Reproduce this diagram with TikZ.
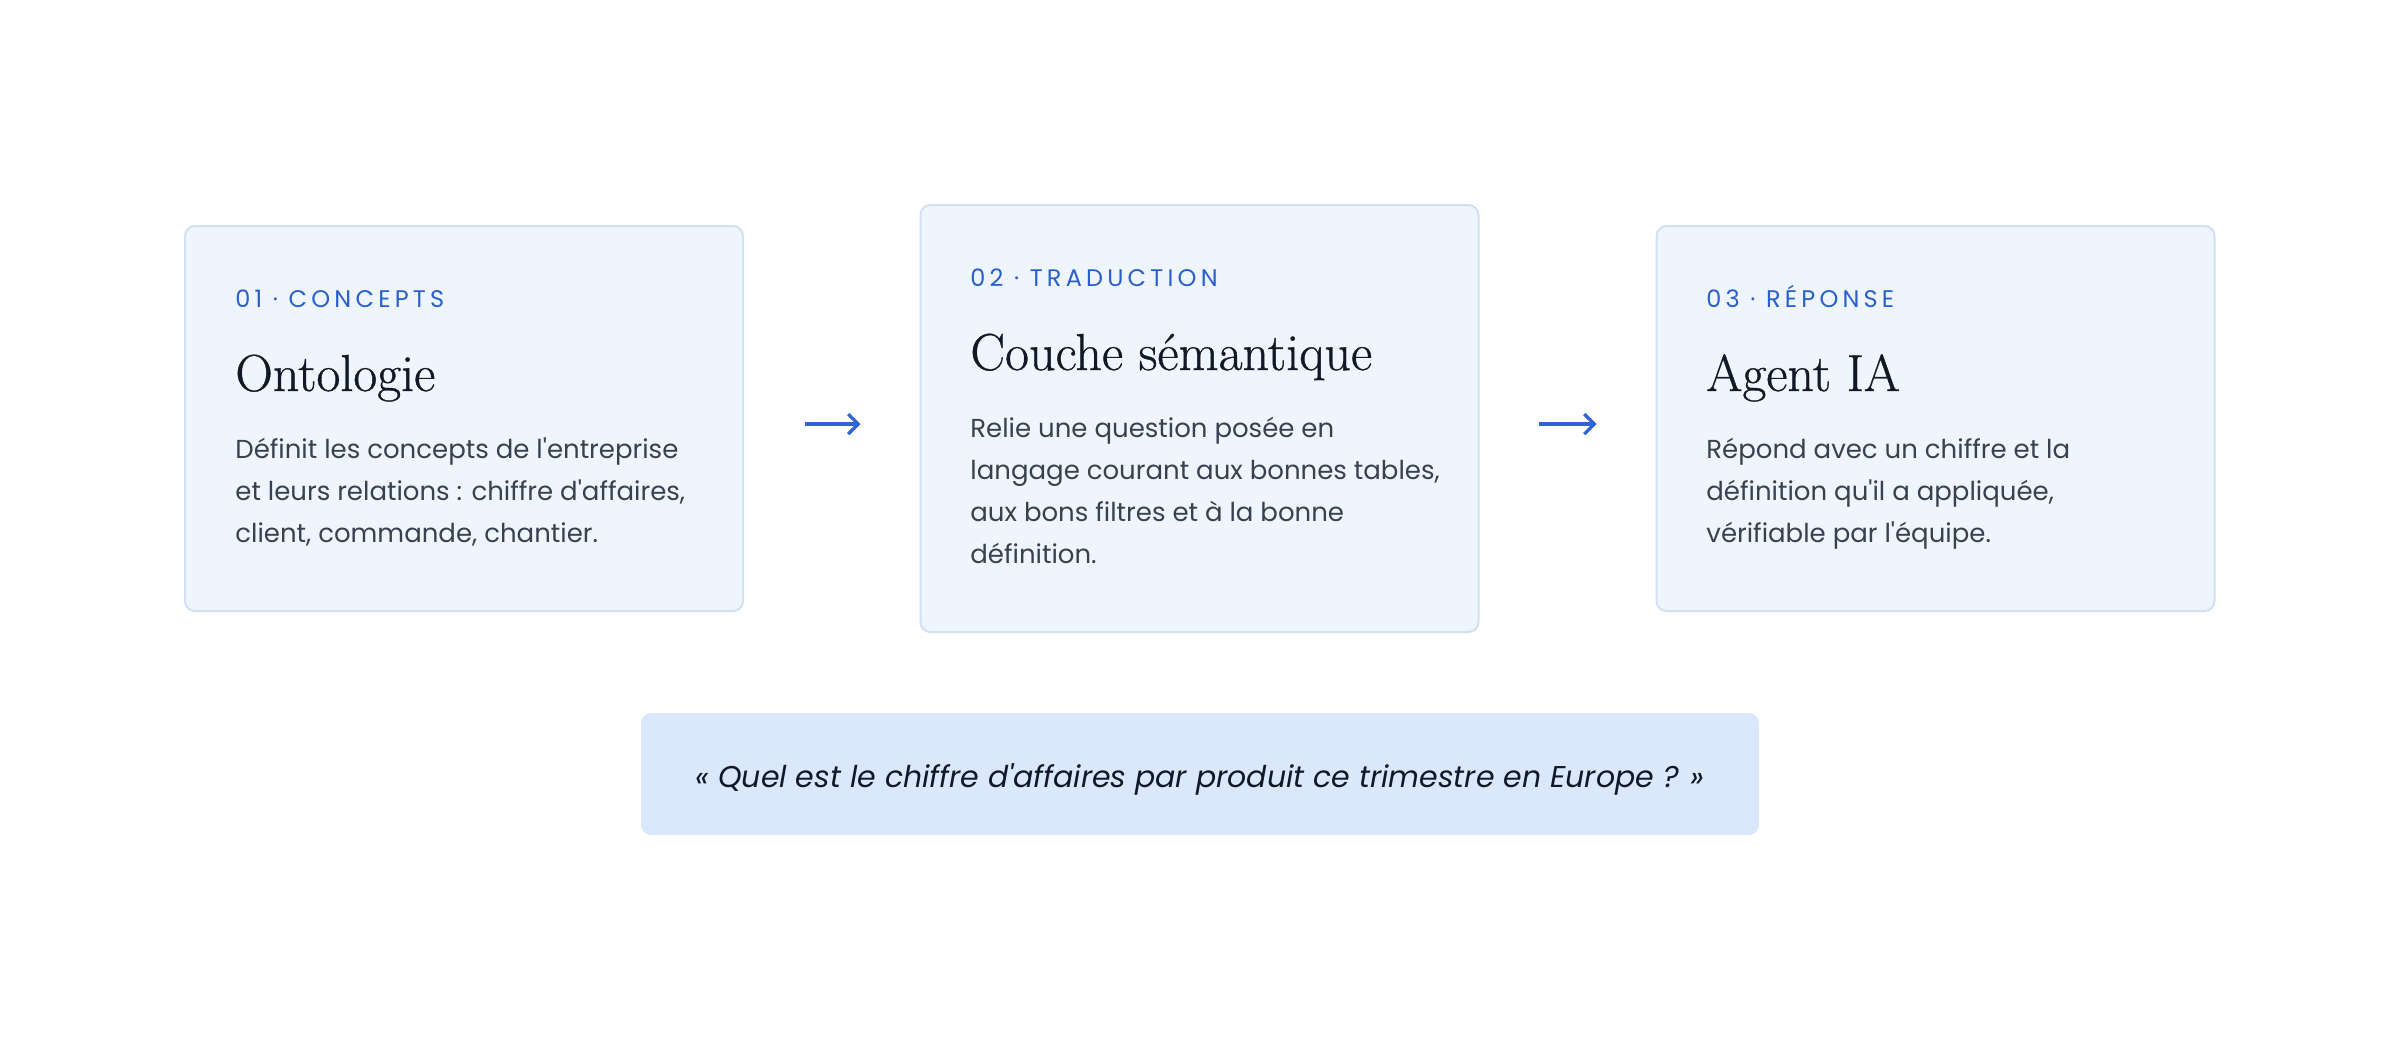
\documentclass[tikz,border=0pt]{standalone}
\usepackage{fontspec}
\usetikzlibrary{arrows.meta}
\newfontfamily\bodyfont{Poppins}
\newfontfamily\labelfont[LetterSpace=17.5]{Poppins}
\newfontfamily\titlefont[FakeBold=0.7]{Latin Modern Roman}
\definecolor{cardfill}{HTML}{EEF5FE}
\definecolor{cardline}{HTML}{D3E0F1}
\definecolor{labelblue}{HTML}{2B5FCC}
\definecolor{titleink}{HTML}{111827}
\definecolor{bodyink}{HTML}{374151}
\definecolor{quotefill}{HTML}{DBE8FC}
\definecolor{arrowblue}{HTML}{2F63D6}
\newcommand\bodylines[1]{\vtop{\baselineskip=21pt\lineskiplimit=-100pt\halign{##\hfil\cr#1\crcr}}}
\begin{document}
\begin{tikzpicture}[x=0.5pt,y=-0.5pt,
  card/.style={draw=cardline, line width=1pt, fill=cardfill, rounded corners=5pt, minimum width=279pt, inner sep=0pt},
  steplabel/.style={anchor=base west, inner sep=0pt, text=labelblue, font=\labelfont\fontsize{12}{14}\selectfont},
  cardtitle/.style={anchor=base west, inner sep=0pt, text=titleink, font=\titlefont\fontsize{26}{30}\selectfont},
  cardbody/.style={anchor=base west, inner sep=0pt, text=bodyink, font=\bodyfont\fontsize{13}{21}\selectfont},
  flow/.style={draw=arrowblue, line width=1.6pt, -{Straight Barb[length=5pt,width=10pt,line width=1.6pt]}},
  quotebox/.style={fill=quotefill, rounded corners=5pt, minimum width=559pt, minimum height=61pt, inner sep=0pt},
  quotetext/.style={anchor=base, inner sep=0pt, text=titleink, font=\bodyfont\itshape\fontsize{15}{18}\selectfont}
]
\useasboundingbox[fill=white] (0,0) rectangle (2400,1040);
% cards
\node[card, minimum height=192.5pt] (b1) at (464,418.5) {};
\node[card, minimum height=213.5pt] (b2) at (1199.5,418.5) {};
\node[card, minimum height=192.5pt] (b3) at (1935.5,418.5) {};
% card 1
\node[steplabel] (l1) at (235,307) {01 · CONCEPTS};
\node[cardtitle] (t1) at (235,391) {Ontologie};
\node[cardbody] (d1) at (235,458) {\bodylines{Définit les concepts de l'entreprise\cr et leurs relations : chiffre d'affaires,\cr client, commande, chantier.}};
% card 2
\node[steplabel] (l2) at (970,286) {02 · TRADUCTION};
\node[cardtitle] (t2) at (970,370) {Couche sémantique};
\node[cardbody] (d2) at (970,437) {\bodylines{Relie une question posée en\cr langage courant aux bonnes tables,\cr aux bons filtres et à la bonne\cr définition.}};
% card 3
\node[steplabel] (l3) at (1706,307) {03 · RÉPONSE};
\node[cardtitle] (t3) at (1706,391) {Agent IA};
\node[cardbody] (d3) at (1706,458) {\bodylines{Répond avec un chiffre et la\cr définition qu'il a appliquée,\cr vérifiable par l'équipe.}};
% arrows
\draw[flow, shorten <=30.5pt, shorten >=29.5pt] ([yshift=-2.75pt]b1.east) -- ([yshift=-2.75pt]b2.west);
\draw[flow, shorten <=29.5pt, shorten >=29.5pt] ([yshift=-2.75pt]b2.east) -- ([yshift=-2.75pt]b3.west);
% question
\node[quotebox] (q) at (1200,774) {};
\node[quotetext] (qt) at (1200,787) {« Quel est le chiffre d'affaires par produit ce trimestre en Europe ? »};
\end{tikzpicture}
\end{document}
